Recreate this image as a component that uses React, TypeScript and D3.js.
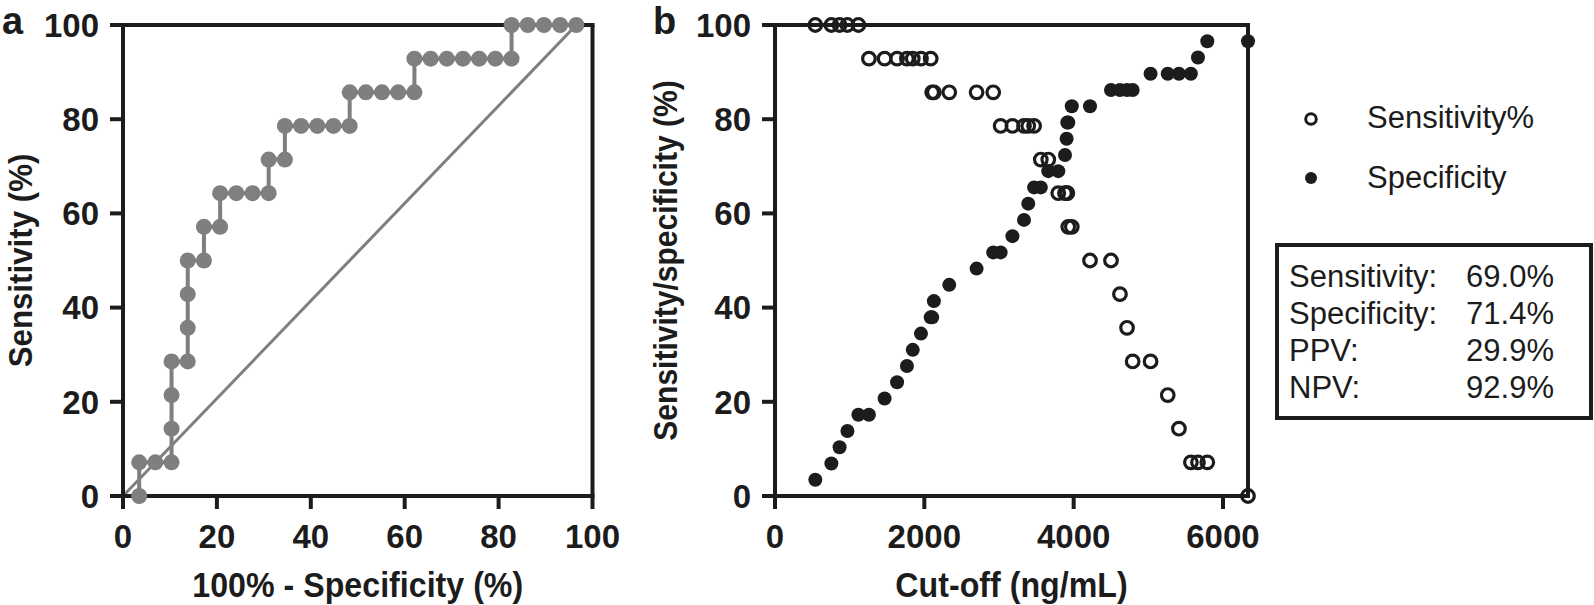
import React from "react";
import * as d3 from "d3";

// Panel b data: cut-off values with matching sensitivity and specificity (%)
const cutoffs = [540, 755, 865, 970, 1117, 1258, 1468, 1635, 1767, 1845, 1955, 2085, 2105, 2128, 2334, 2700, 2923, 3022, 3180, 3335, 3392, 3470, 3560, 3660, 3794, 3884, 3906, 3915, 3928, 3975, 4219, 4500, 4620, 4715, 4790, 5030, 5260, 5410, 5570, 5665, 5790, 6335];
const sensitivity = [100, 100, 100, 100, 100, 92.86, 92.86, 92.86, 92.86, 92.86, 92.86, 92.86, 85.71, 85.71, 85.71, 85.71, 85.71, 78.57, 78.57, 78.57, 78.57, 78.57, 71.43, 71.43, 64.29, 64.29, 64.29, 64.29, 57.14, 57.14, 50, 50, 42.86, 35.71, 28.57, 28.57, 21.43, 14.29, 7.14, 7.14, 7.14, 0];
const specificity = [3.45, 6.9, 10.34, 13.79, 17.24, 17.24, 20.69, 24.14, 27.59, 31.03, 34.48, 37.93, 37.93, 41.38, 44.83, 48.28, 51.72, 51.72, 55.17, 58.62, 62.07, 65.52, 65.52, 68.97, 68.97, 72.41, 75.86, 79.31, 79.31, 82.76, 82.76, 86.21, 86.21, 86.21, 86.21, 89.66, 89.66, 89.66, 89.66, 93.1, 96.55, 96.55];

// Panel a: ROC curve = (100% - specificity, sensitivity)
const rocX = specificity.map((s) => 100 - s).reverse();
const rocY = sensitivity.slice().reverse();
const identityX = [0, 96.55];
const identityY = [0, 100];

const aTicks = [0, 20, 40, 60, 80, 100];
const bXTicks = [0, 2000, 4000, 6000];
const bYTicks = [0, 20, 40, 60, 80, 100];

const tableLabels = ["Sensitivity:", "Specificity:", "PPV:", "NPV:"];
const tableValues = ["69.0%", "71.4%", "29.9%", "92.9%"];
const legendLabels = ["Sensitivity%", "Specificity"];

const FONT = "'Liberation Sans', Arial, Helvetica, sans-serif";
const INK = "#1c1c1c";
const GREY = "#7f7f7f";

export default function App() {
  const W = 1594;
  const H = 605;
  const top = 25;
  const bottom = 496;
  const xA = d3.scaleLinear().domain([0, 100]).range([123, 592.5]);
  const yA = d3.scaleLinear().domain([0, 100]).range([bottom, top]);
  const xB = d3.scaleLinear().domain([0, 6335]).range([775, 1248]);
  const yB = d3.scaleLinear().domain([0, 100]).range([bottom, top]);

  const rocLine = d3
    .line<number>()
    .x((_, i) => xA(rocX[i]))
    .y((_, i) => yA(rocY[i]))(rocX);
  const idLine = d3
    .line<number>()
    .x((_, i) => xA(identityX[i]))
    .y((_, i) => yA(identityY[i]))(identityX);

  const tickLen = 13;
  const axisW = 4;
  const titleScale = 0.92;

  const frame = (
    x: d3.ScaleLinear<number, number>,
    y: d3.ScaleLinear<number, number>,
    xTicks: number[],
    yTicks: number[],
    xMax: number
  ) => {
    const x0 = x(0);
    const x1 = x(xMax);
    const y0 = y(0);
    const y1 = y(100);
    return (
      <g>
        <line x1={x0} x2={x0} y1={y1 - axisW / 2} y2={y0 + tickLen} stroke={INK} strokeWidth={axisW} />
        <line x1={x0 - tickLen} x2={x1 + axisW / 2} y1={y0} y2={y0} stroke={INK} strokeWidth={axisW} />
        <line x1={x0 - tickLen} x2={x1 + axisW / 2} y1={y1} y2={y1} stroke={INK} strokeWidth={axisW} />
        <line x1={x1} x2={x1} y1={y1} y2={y0} stroke={INK} strokeWidth={axisW} />
        {yTicks.map((t) => (
          <g key={"y" + t}>
            <line x1={x0 - tickLen} x2={x0} y1={y(t)} y2={y(t)} stroke={INK} strokeWidth={axisW} />
            <text x={x0 - 24} y={y(t)} dy="0.36em" textAnchor="end" fontFamily={FONT} fontWeight="bold" fontSize={33} fill={INK}>
              {t}
            </text>
          </g>
        ))}
        {xTicks.map((t) => (
          <g key={"x" + t}>
            <line x1={x(t)} x2={x(t)} y1={y0} y2={y0 + tickLen} stroke={INK} strokeWidth={axisW} />
            <text x={x(t)} y={y0 + 52} textAnchor="middle" fontFamily={FONT} fontWeight="bold" fontSize={33} fill={INK}>
              {t}
            </text>
          </g>
        ))}
      </g>
    );
  };

  return (
    <svg width={W} height={H} style={{ position: "absolute", left: 0, top: 0, background: "#fff" }}>
      <rect width={W} height={H} fill="#fff" />
      {/* Panel a */}
      <text x={2} y={34} fontFamily={FONT} fontWeight="bold" fontSize={38} fill={INK}>a</text>
      <path d={idLine || ""} fill="none" stroke={GREY} strokeWidth={3} />
      {frame(xA, yA, aTicks, aTicks, 100)}
      <path d={rocLine || ""} fill="none" stroke={GREY} strokeWidth={4} />
      {rocX.map((v, i) => (
        <circle key={"r" + i} cx={xA(v)} cy={yA(rocY[i])} r={8} fill={GREY} />
      ))}
      <text transform={`translate(${(xA(0) + xA(100)) / 2}, 597) scale(${titleScale}, 1)`} textAnchor="middle" fontFamily={FONT} fontWeight="bold" fontSize={35} fill={INK}>
        100% - Specificity (%)
      </text>
      <text transform={`translate(32, ${(top + bottom) / 2}) rotate(-90) scale(${titleScale}, 1)`} textAnchor="middle" fontFamily={FONT} fontWeight="bold" fontSize={34} fill={INK}>
        Sensitivity (%)
      </text>

      {/* Panel b */}
      <text x={653} y={34} fontFamily={FONT} fontWeight="bold" fontSize={38} fill={INK}>b</text>
      {frame(xB, yB, bXTicks, bYTicks, 6335)}
      {cutoffs.map((c, i) => (
        <circle key={"sp" + i} cx={xB(c)} cy={yB(specificity[i])} r={7} fill={INK} />
      ))}
      {cutoffs.map((c, i) => (
        <circle key={"se" + i} cx={xB(c)} cy={yB(sensitivity[i])} r={6.3} fill="none" stroke={INK} strokeWidth={3.2} />
      ))}
      <text transform={`translate(${(xB(0) + xB(6335)) / 2}, 597) scale(${titleScale}, 1)`} textAnchor="middle" fontFamily={FONT} fontWeight="bold" fontSize={35} fill={INK}>
        Cut-off (ng/mL)
      </text>
      <text transform={`translate(677, ${(top + bottom) / 2}) rotate(-90) scale(${titleScale * 0.96}, 1)`} textAnchor="middle" fontFamily={FONT} fontWeight="bold" fontSize={34} fill={INK}>
        Sensitivity/specificity (%)
      </text>

      {/* Legend */}
      <circle cx={1311} cy={119} r={5.3} fill="none" stroke={INK} strokeWidth={3} />
      <circle cx={1311} cy={178} r={6} fill={INK} />
      {legendLabels.map((l, i) => (
        <text key={l} x={1367} y={i === 0 ? 117 : 177} dy="0.36em" fontFamily={FONT} fontSize={31} fill={INK}>
          {l}
        </text>
      ))}

      {/* Table */}
      <rect x={1277} y={245} width={314} height={173} fill="none" stroke={INK} strokeWidth={4} />
      {tableLabels.map((l, i) => (
        <g key={l}>
          <text x={1289} y={287 + i * 37} fontFamily={FONT} fontSize={31} fill={INK}>{l}</text>
          <text x={1554} y={287 + i * 37} textAnchor="end" fontFamily={FONT} fontSize={31} fill={INK}>{tableValues[i]}</text>
        </g>
      ))}
    </svg>
  );
}
